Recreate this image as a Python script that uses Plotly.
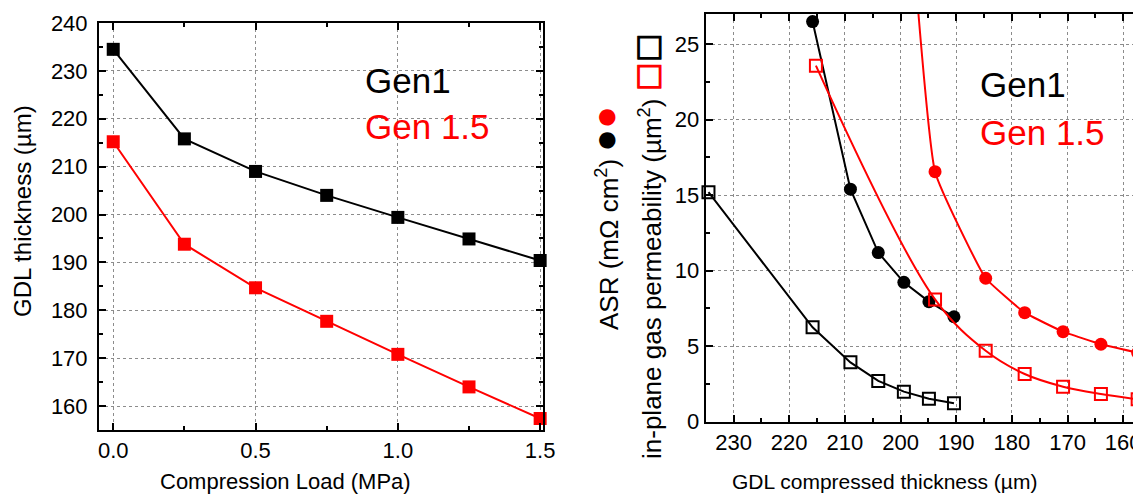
import plotly.graph_objects as go

# ---- data ----
load_mpa = [0.0, 0.25, 0.5, 0.75, 1.0, 1.25, 1.5]
thick_gen1 = [234.5, 215.8, 209.0, 204.0, 199.4, 194.9, 190.4]
thick_gen15 = [215.2, 193.8, 184.7, 177.7, 170.8, 164.0, 157.4]

perm_gen1 = [15.2, 6.25, 3.93, 2.70, 1.99, 1.52, 1.22]
asr_gen1_thick = [215.8, 209.0, 204.0, 199.4, 194.9, 190.4]
asr_gen1 = [26.5, 15.4, 11.2, 9.23, 7.95, 6.95]
perm_gen15 = [23.58, 8.10, 4.70, 3.16, 2.32, 1.83, 1.48]
asr_gen15 = [125.0, 16.56, 9.50, 7.22, 5.96, 5.13, 4.57]

left_xticks = [0.0, 0.5, 1.0, 1.5]
left_xticklabels = ["0.0", "0.5", "1.0", "1.5"]
left_yticks = [160, 170, 180, 190, 200, 210, 220, 230, 240]
right_xticks = [230, 220, 210, 200, 190, 180, 170, 160]
right_yticks = [0, 5, 10, 15, 20, 25]

# the page adds an 8 px body margin; figure fills the rest of the window
OFF = 8
W, H = 1141 - OFF, 499 - OFF
FONT = "Liberation Sans, Arial, sans-serif"
RED = "#ff0000"
BLK = "#000000"

def px(x):
    return (x - OFF) / W

def py(y):
    return 1 - (y - OFF) / H

fig = go.Figure()

# left panel
fig.add_trace(go.Scatter(x=load_mpa, y=thick_gen1, mode="lines+markers",
                         line=dict(color=BLK, width=2),
                         marker=dict(symbol="square", size=13, color=BLK),
                         cliponaxis=False, xaxis="x", yaxis="y"))
fig.add_trace(go.Scatter(x=load_mpa, y=thick_gen15, mode="lines+markers",
                         line=dict(color=RED, width=2),
                         marker=dict(symbol="square", size=13, color=RED),
                         cliponaxis=False, xaxis="x", yaxis="y"))

# right panel
fig.add_trace(go.Scatter(x=thick_gen1, y=perm_gen1, mode="lines+markers",
                         line=dict(color=BLK, width=2),
                         marker=dict(symbol="square-open", size=12, color=BLK, line=dict(width=2)),
                         cliponaxis=False, xaxis="x2", yaxis="y2"))
fig.add_trace(go.Scatter(x=asr_gen1_thick, y=asr_gen1, mode="lines+markers",
                         line=dict(color=BLK, width=2),
                         marker=dict(symbol="circle", size=13, color=BLK),
                         cliponaxis=False, xaxis="x2", yaxis="y2"))
fig.add_trace(go.Scatter(x=thick_gen15, y=perm_gen15, mode="lines+markers",
                         line=dict(color=RED, width=2, shape="spline", smoothing=1.0),
                         marker=dict(symbol="square-open", size=12, color=RED, line=dict(width=2)),
                         cliponaxis=False, xaxis="x2", yaxis="y2"))
fig.add_trace(go.Scatter(x=thick_gen15, y=asr_gen15, mode="lines+markers",
                         line=dict(color=RED, width=2, shape="spline", smoothing=0.3),
                         marker=dict(symbol="circle", size=13, color=RED),
                         cliponaxis=False, xaxis="x2", yaxis="y2"))

tickfont = dict(family=FONT, size=22, color=BLK)
grid = dict(showgrid=True, gridcolor="#8c8c8c", gridwidth=1, griddash="3px,3px")
common = dict(showline=True, linecolor=BLK, linewidth=2, ticks="inside",
              ticklen=7, tickwidth=2, tickcolor=BLK, tickfont=tickfont,
              zeroline=False, automargin=False, ticklabeloverflow="allow", **grid)

def minor(d):
    return dict(dtick=d, ticks="inside", ticklen=4, tickwidth=2, tickcolor=BLK, showgrid=False)

fig.update_layout(
    width=W, height=H,
    margin=dict(l=0, r=0, t=0, b=0, autoexpand=False),
    paper_bgcolor="white", plot_bgcolor="white",
    showlegend=False,
    font=dict(family=FONT, color=BLK),
    xaxis=dict(domain=[px(99), px(543)], range=[-0.05, 1.51], anchor="y",
               tickvals=left_xticks, ticktext=left_xticklabels, mirror="ticks",
               ticklabelstandoff=0, minor=minor(0.25), **common),
    yaxis=dict(domain=[py(430), py(23)], range=[155, 240], anchor="x",
               tickvals=left_yticks, mirror="ticks", ticklabelstandoff=5,
               minor=minor(5), **common),
    xaxis2=dict(domain=[px(705.7), 1.0], range=[235, 156.8], anchor="y2",
                tickvals=right_xticks, mirror="ticks", ticklabelstandoff=0,
                minor=minor(5), **common),
    yaxis2=dict(domain=[py(421.7), py(14)], range=[0, 27], anchor="x2",
                tickvals=right_yticks, mirror=False, ticklabelstandoff=0,
                minor=minor(2.5), **common),
)

def ann(text, x, y, size, color=BLK, angle=0, xanchor="center", yanchor="middle"):
    fig.add_annotation(text=text, x=px(x), y=py(y), xref="paper", yref="paper",
                       showarrow=False, textangle=angle, xanchor=xanchor, yanchor=yanchor,
                       borderpad=0,
                       font=dict(family=FONT, size=size, color=color))

# axis titles
ann("Compression Load (MPa)", 285, 481, 22)
ann("GDL compressed thickness (µm)", 884, 481, 21)
ann("GDL thickness (µm)", 22, 211, 24, angle=-90)
ann("ASR (mΩ cm<sup>2</sup>) <span style='font-size:38px'>●</span>"
    "<span style='font-size:38px;color:#ff0000'>●</span>", 605, 218, 26, angle=-90)
ann("in-plane gas permeability (µm<sup>2</sup>) "
    "<span style='font-size:32px;color:#ff0000;font-weight:bold'>☐</span>"
    "<span style='font-size:32px;font-weight:bold'>☐</span>", 650, 246, 26, angle=-90)

# in-plot labels
ann("Gen1", 364, 80, 35, xanchor="left")
ann("Gen 1.5", 364, 127, 35, color=RED, xanchor="left")
ann("Gen1", 979, 85, 35, xanchor="left")
ann("Gen 1.5", 979, 132, 35, color=RED, xanchor="left")

fig.write_html("out.html")
